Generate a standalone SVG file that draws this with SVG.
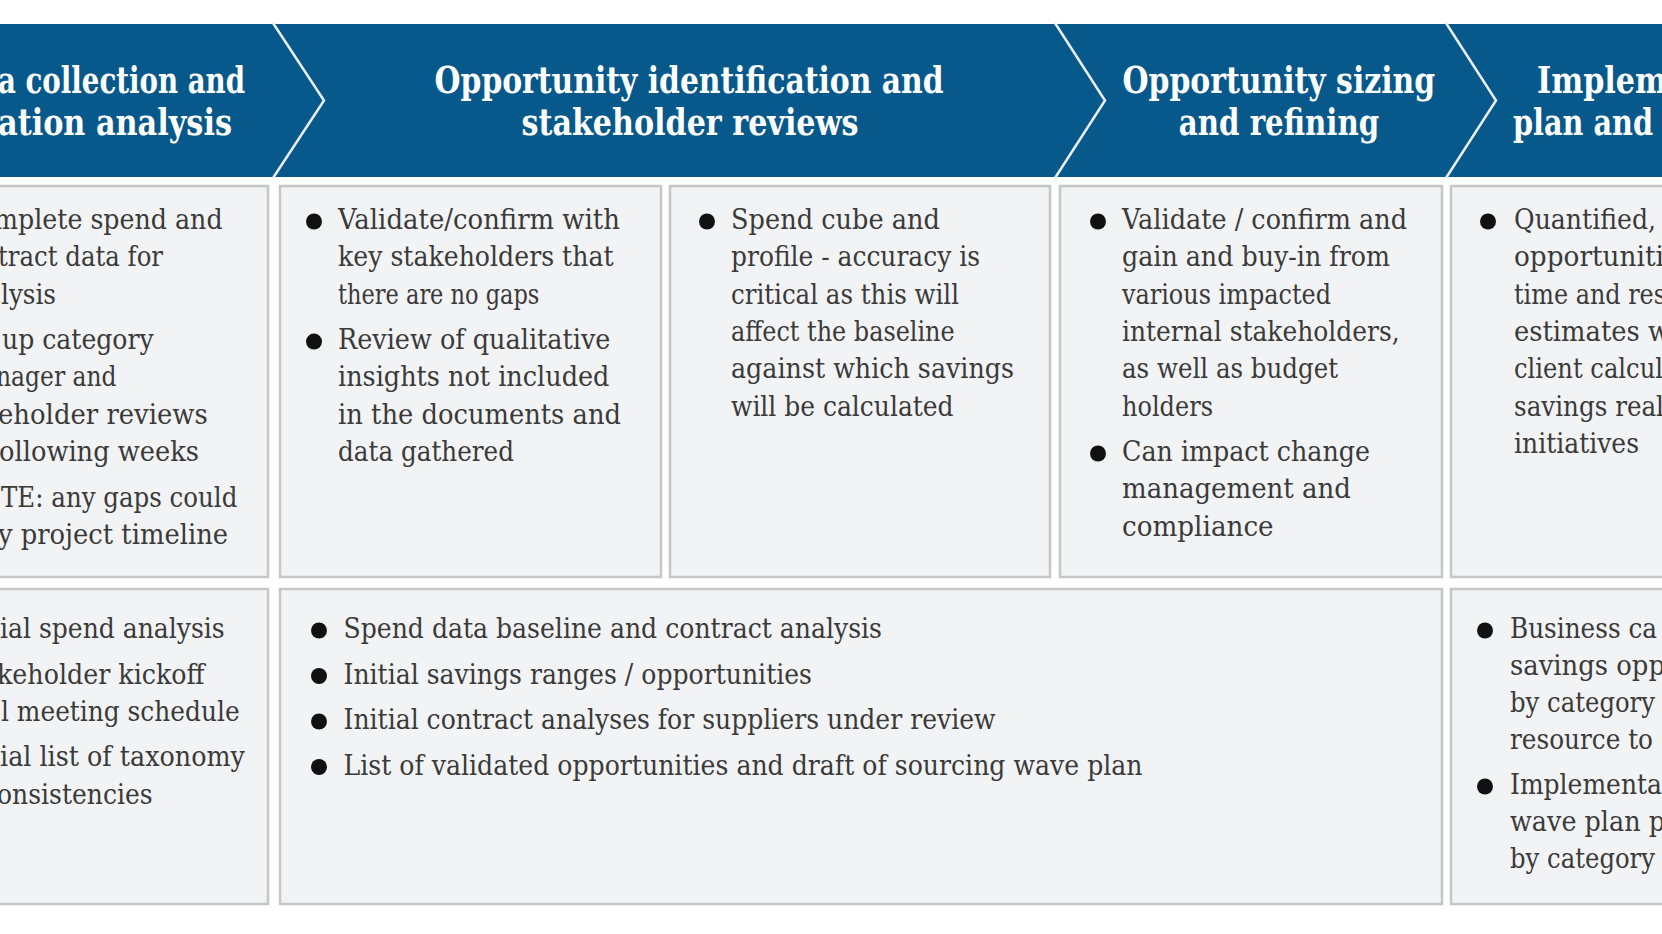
<svg xmlns="http://www.w3.org/2000/svg" width="1662" height="934" viewBox="0 0 1662 934">
<style>
.hd{font-family:"DejaVu Serif","Liberation Serif",serif;font-weight:bold;font-size:37px;fill:#ffffff}
.tx{font-family:"DejaVu Serif","Liberation Serif",serif;font-size:27.5px;fill:#3a3a3a}
.box{fill:#f2f3f5;stroke:#c6c6c6;stroke-width:2.5}
.sep{fill:none;stroke:#e9eff5;stroke-width:2.5}
.bl{fill:#111111}
</style>
<defs>
<circle id="dot" r="8" class="bl"/>
</defs>
<rect width="1662" height="934" fill="#ffffff"/>

<g id="header">
  <rect x="-10" y="24" width="1690" height="153" fill="#07598c"/>
  <g id="connectors">
    <polyline class="sep" points="273,23 324,100.5 273,178"/>
    <polyline class="sep" points="1055,23 1105,100.5 1055,178"/>
    <polyline class="sep" points="1446,23 1496,100.5 1446,178"/>
  </g>
  <g id="stage1">
    <text class="hd" x="-2" y="93" textLength="247" lengthAdjust="spacingAndGlyphs">a collection and</text>
    <text class="hd" x="-2" y="135" textLength="234" lengthAdjust="spacingAndGlyphs">ation analysis</text>
  </g>
  <g id="stage2">
    <text class="hd" x="434.6" y="93" textLength="509" lengthAdjust="spacingAndGlyphs">Opportunity identification and</text>
    <text class="hd" x="521.5" y="135" textLength="337" lengthAdjust="spacingAndGlyphs">stakeholder reviews</text>
  </g>
  <g id="stage3">
    <text class="hd" x="1122.5" y="93" textLength="312.7" lengthAdjust="spacingAndGlyphs">Opportunity sizing</text>
    <text class="hd" x="1178.7" y="135" textLength="200.5" lengthAdjust="spacingAndGlyphs">and refining</text>
  </g>
  <g id="stage4">
    <text class="hd" x="1537" y="93" textLength="130" lengthAdjust="spacingAndGlyphs">Implem</text>
    <text class="hd" x="1513" y="135" textLength="140" lengthAdjust="spacingAndGlyphs">plan and</text>
  </g>
</g>

<g id="boxA">
  <rect class="box" x="-10" y="186" width="278" height="391"/>
  <text class="tx" x="-6" y="229" textLength="228.6" lengthAdjust="spacingAndGlyphs">mplete spend and</text>
  <text class="tx" x="-2" y="266.3" textLength="165" lengthAdjust="spacingAndGlyphs">tract data for</text>
  <text class="tx" x="1" y="303.6" textLength="55" lengthAdjust="spacingAndGlyphs">lysis</text>
  <text class="tx" x="2" y="349.1" textLength="151.7" lengthAdjust="spacingAndGlyphs">up category</text>
  <text class="tx" x="-4" y="386.4" textLength="120.6" lengthAdjust="spacingAndGlyphs">nager and</text>
  <text class="tx" x="-2" y="423.7" textLength="209.8" lengthAdjust="spacingAndGlyphs">eholder reviews</text>
  <text class="tx" x="-1" y="461" textLength="200" lengthAdjust="spacingAndGlyphs">ollowing weeks</text>
  <text class="tx" x="1" y="506.5" textLength="236.4" lengthAdjust="spacingAndGlyphs">TE: any gaps could</text>
  <text class="tx" x="-2" y="543.8" textLength="230" lengthAdjust="spacingAndGlyphs">y project timeline</text>
</g>

<g id="boxB">
  <rect class="box" x="280" y="186" width="381" height="391"/>
  <use href="#dot" x="314" y="221.5"/>
  <text class="tx" x="338" y="229" textLength="282" lengthAdjust="spacingAndGlyphs">Validate/confirm with</text>
  <text class="tx" x="338" y="266.3" textLength="275.6" lengthAdjust="spacingAndGlyphs">key stakeholders that</text>
  <text class="tx" x="338" y="303.6" textLength="201.4" lengthAdjust="spacingAndGlyphs">there are no gaps</text>
  <use href="#dot" x="314" y="341.6"/>
  <text class="tx" x="338" y="349.1" textLength="272.4" lengthAdjust="spacingAndGlyphs">Review of qualitative</text>
  <text class="tx" x="338" y="386.4" textLength="271.4" lengthAdjust="spacingAndGlyphs">insights not included</text>
  <text class="tx" x="338" y="423.7" textLength="283" lengthAdjust="spacingAndGlyphs">in the documents and</text>
  <text class="tx" x="338" y="461" textLength="176" lengthAdjust="spacingAndGlyphs">data gathered</text>
</g>

<g id="boxC">
  <rect class="box" x="670" y="186" width="380" height="391"/>
  <use href="#dot" x="707" y="221.5"/>
  <text class="tx" x="731" y="229" textLength="209" lengthAdjust="spacingAndGlyphs">Spend cube and</text>
  <text class="tx" x="731" y="266.3" textLength="249" lengthAdjust="spacingAndGlyphs">profile - accuracy is</text>
  <text class="tx" x="731" y="303.6" textLength="228" lengthAdjust="spacingAndGlyphs">critical as this will</text>
  <text class="tx" x="731" y="340.9" textLength="223.7" lengthAdjust="spacingAndGlyphs">affect the baseline</text>
  <text class="tx" x="731" y="378.2" textLength="283" lengthAdjust="spacingAndGlyphs">against which savings</text>
  <text class="tx" x="731" y="415.5" textLength="222.6" lengthAdjust="spacingAndGlyphs">will be calculated</text>
</g>

<g id="boxD">
  <rect class="box" x="1060" y="186" width="382" height="391"/>
  <use href="#dot" x="1098" y="221.5"/>
  <text class="tx" x="1122" y="229" textLength="285" lengthAdjust="spacingAndGlyphs">Validate / confirm and</text>
  <text class="tx" x="1122" y="266.3" textLength="268" lengthAdjust="spacingAndGlyphs">gain and buy-in from</text>
  <text class="tx" x="1122" y="303.6" textLength="209" lengthAdjust="spacingAndGlyphs">various impacted</text>
  <text class="tx" x="1122" y="340.9" textLength="277.7" lengthAdjust="spacingAndGlyphs">internal stakeholders,</text>
  <text class="tx" x="1122" y="378.2" textLength="216" lengthAdjust="spacingAndGlyphs">as well as budget</text>
  <text class="tx" x="1122" y="415.5" textLength="91" lengthAdjust="spacingAndGlyphs">holders</text>
  <use href="#dot" x="1098" y="453.5"/>
  <text class="tx" x="1122" y="461" textLength="248" lengthAdjust="spacingAndGlyphs">Can impact change</text>
  <text class="tx" x="1122" y="498.3" textLength="229" lengthAdjust="spacingAndGlyphs">management and</text>
  <text class="tx" x="1122" y="535.6" textLength="151.6" lengthAdjust="spacingAndGlyphs">compliance</text>
</g>

<g id="boxE">
  <rect class="box" x="1451" y="186" width="230" height="391"/>
  <use href="#dot" x="1488" y="221.5"/>
  <text class="tx" x="1514" y="229" textLength="142" lengthAdjust="spacingAndGlyphs">Quantified,</text>
  <text class="tx" x="1514" y="266.3" textLength="150" lengthAdjust="spacingAndGlyphs">opportuniti</text>
  <text class="tx" x="1514" y="303.6" textLength="152" lengthAdjust="spacingAndGlyphs">time and res</text>
  <text class="tx" x="1514" y="340.9" textLength="156" lengthAdjust="spacingAndGlyphs">estimates w</text>
  <text class="tx" x="1514" y="378.2" textLength="149" lengthAdjust="spacingAndGlyphs">client calcul</text>
  <text class="tx" x="1514" y="415.5" textLength="150" lengthAdjust="spacingAndGlyphs">savings real</text>
  <text class="tx" x="1514" y="452.8" textLength="125" lengthAdjust="spacingAndGlyphs">initiatives</text>
</g>

<g id="boxF">
  <rect class="box" x="-10" y="589" width="278" height="315"/>
  <text class="tx" x="0" y="638" textLength="224.7" lengthAdjust="spacingAndGlyphs">ial spend analysis</text>
  <text class="tx" x="-3" y="683.5" textLength="207.6" lengthAdjust="spacingAndGlyphs">keholder kickoff</text>
  <text class="tx" x="1" y="720.8" textLength="238.6" lengthAdjust="spacingAndGlyphs">l meeting schedule</text>
  <text class="tx" x="0" y="766.3" textLength="244.9" lengthAdjust="spacingAndGlyphs">ial list of taxonomy</text>
  <text class="tx" x="-3" y="803.6" textLength="155.6" lengthAdjust="spacingAndGlyphs">onsistencies</text>
</g>

<g id="boxG">
  <rect class="box" x="280" y="589" width="1162" height="315"/>
  <use href="#dot" x="319" y="630.5"/>
  <text class="tx" x="343.5" y="638" textLength="538.5" lengthAdjust="spacingAndGlyphs">Spend data baseline and contract analysis</text>
  <use href="#dot" x="319" y="676"/>
  <text class="tx" x="343.5" y="683.5" textLength="468.5" lengthAdjust="spacingAndGlyphs">Initial savings ranges / opportunities</text>
  <use href="#dot" x="319" y="721.5"/>
  <text class="tx" x="343.5" y="729" textLength="652" lengthAdjust="spacingAndGlyphs">Initial contract analyses for suppliers under review</text>
  <use href="#dot" x="319" y="767"/>
  <text class="tx" x="343.5" y="774.5" textLength="799" lengthAdjust="spacingAndGlyphs">List of validated opportunities and draft of sourcing wave plan</text>
</g>

<g id="boxH">
  <rect class="box" x="1451" y="589" width="230" height="315"/>
  <use href="#dot" x="1485" y="630.5"/>
  <text class="tx" x="1510" y="638" textLength="147" lengthAdjust="spacingAndGlyphs">Business ca</text>
  <text class="tx" x="1510" y="675" textLength="155" lengthAdjust="spacingAndGlyphs">savings opp</text>
  <text class="tx" x="1510" y="712" textLength="145" lengthAdjust="spacingAndGlyphs">by category</text>
  <text class="tx" x="1510" y="749" textLength="143" lengthAdjust="spacingAndGlyphs">resource to</text>
  <use href="#dot" x="1485" y="786.5"/>
  <text class="tx" x="1510" y="794" textLength="152" lengthAdjust="spacingAndGlyphs">Implementa</text>
  <text class="tx" x="1510" y="831" textLength="155" lengthAdjust="spacingAndGlyphs">wave plan p</text>
  <text class="tx" x="1510" y="868" textLength="145" lengthAdjust="spacingAndGlyphs">by category</text>
</g>
</svg>
